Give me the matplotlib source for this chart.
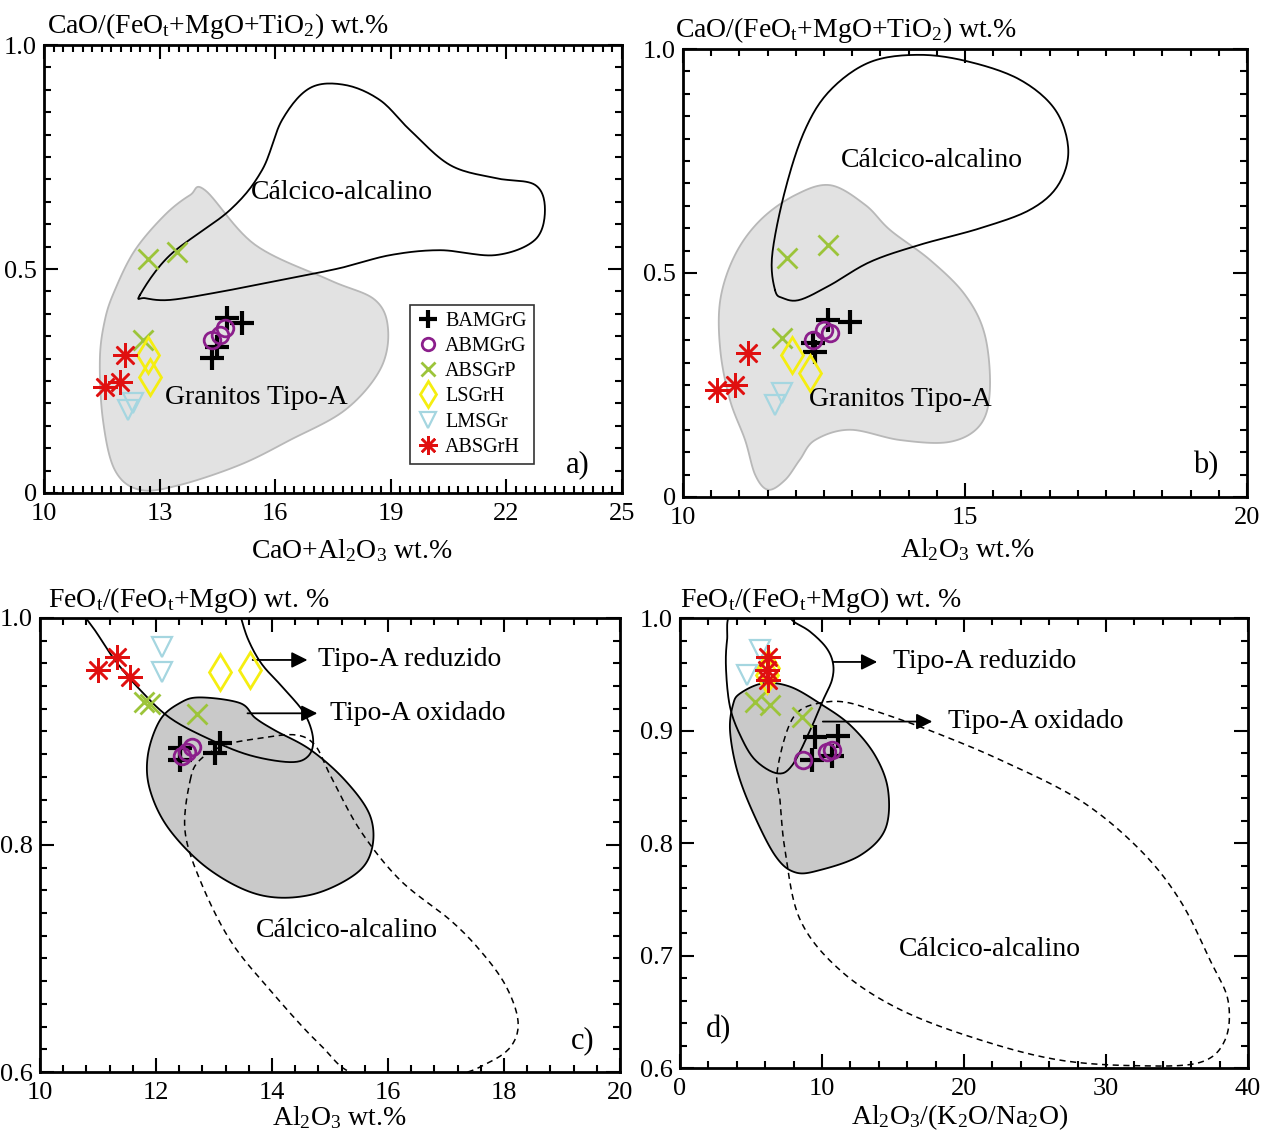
import numpy as np
import matplotlib.pyplot as plt
from matplotlib.ticker import MultipleLocator

plt.rcParams['font.family'] = ['Liberation Serif', 'DejaVu Serif']
plt.rcParams['mathtext.fontset'] = 'stix'
plt.rcParams['mathtext.default'] = 'regular'

# ---- sample points ----
groups = ['BAMGrG', 'ABMGrG', 'ABSGrP', 'LSGrH', 'LMSGr', 'ABSGrH']

pts_a = {
    'BAMGrG': ([14.36, 14.49, 14.75, 15.14], [0.301, 0.326, 0.391, 0.379]),
    'ABMGrG': ([14.36, 14.57, 14.70], [0.342, 0.353, 0.368]),
    'ABSGrP': ([12.70, 13.45, 12.57], [0.522, 0.538, 0.342]),
    'LSGrH': ([12.70, 12.75], [0.308, 0.259]),
    'LMSGr': ([12.31, 12.18], [0.201, 0.185]),
    'ABSGrH': ([12.10, 11.58, 11.97], [0.308, 0.237, 0.248]),
}
pts_b = {
    'BAMGrG': ([12.30, 12.34, 12.57, 12.96], [0.344, 0.324, 0.395, 0.391]),
    'ABMGrG': ([12.30, 12.50, 12.60], [0.350, 0.372, 0.365]),
    'ABSGrP': ([11.84, 12.57, 11.76], [0.533, 0.562, 0.355]),
    'LSGrH': ([11.93, 12.25], [0.317, 0.277]),
    'LMSGr': ([11.76, 11.63], [0.232, 0.205]),
    'ABSGrH': ([11.15, 10.60, 10.92], [0.321, 0.239, 0.250]),
}
pts_c = {
    'BAMGrG': ([12.41, 12.41, 13.10, 13.02], [0.885, 0.875, 0.890, 0.881]),
    'ABMGrG': ([12.53, 12.62, 12.45], [0.882, 0.886, 0.878]),
    'ABSGrP': ([11.80, 11.90, 12.71], [0.926, 0.924, 0.915]),
    'LSGrH': ([13.10, 13.62], [0.952, 0.954]),
    'LMSGr': ([12.10, 12.10], [0.974, 0.952]),
    'ABSGrH': ([11.00, 11.33, 11.55], [0.954, 0.966, 0.948]),
}
pts_d = {
    'BAMGrG': ([9.50, 11.13, 9.30, 10.70], [0.894, 0.895, 0.874, 0.877]),
    'ABMGrG': ([8.66, 10.35, 10.70], [0.874, 0.881, 0.883]),
    'ABSGrP': ([5.28, 6.34, 8.60], [0.925, 0.923, 0.912]),
    'LSGrH': ([6.20, 6.13], [0.956, 0.949]),
    'LMSGr': ([5.63, 4.72], [0.972, 0.949]),
    'ABSGrH': ([6.20, 6.20, 6.13], [0.965, 0.945, 0.954]),
}

# ---- field outlines (control points) ----
a_tipoA = [(14.18, .676), (15.48, .554), (17.42, .475), (18.59, .431), (18.93, .364),
           (18.72, .275), (17.81, .185), (16.38, .118), (15.09, .063), (13.53, .018),
           (12.49, .007), (11.84, .051), (11.53, .163), (11.45, .297), (11.58, .386),
           (11.84, .453), (12.36, .542), (13.14, .621), (13.79, .665)]
a_calc = [(12.49, .442), (13.27, .531), (14.83, .632), (15.66, .721), (16.18, .833),
          (16.90, .904), (17.81, .911), (18.72, .877), (19.50, .810), (20.54, .732),
          (21.71, .703), (22.74, .688), (23.00, .632), (22.74, .565), (21.71, .531),
          (20.28, .542), (18.98, .531), (17.68, .502), (16.12, .475), (14.57, .449),
          (13.27, .431), (12.62, .435)]
b_tipoA = [(12.61, .696), (13.23, .652), (13.67, .596), (14.38, .529), (15.00, .451),
           (15.35, .362), (15.44, .239), (15.27, .161), (14.73, .123), (13.85, .127),
           (12.96, .150), (12.34, .127), (12.07, .083), (11.81, .038), (11.51, .016),
           (11.28, .049), (11.10, .127), (10.83, .217), (10.66, .328), (10.66, .440),
           (10.92, .540), (11.37, .618), (11.99, .674)]
b_calc = [(11.63, .462), (11.58, .540), (11.81, .685), (12.16, .819), (12.61, .908),
          (13.32, .971), (14.20, .987), (15.09, .971), (15.98, .931), (16.60, .864),
          (16.83, .775), (16.65, .696), (16.15, .641), (15.27, .600), (14.20, .563),
          (13.32, .525), (12.61, .473), (12.07, .440), (11.77, .444)]
c_oxid = [(12.76, .930), (13.45, .925), (13.71, .912), (14.05, .901), (14.66, .884),
          (15.26, .857), (15.69, .826), (15.72, .796), (15.43, .774), (14.66, .756),
          (13.79, .756), (12.93, .778), (12.24, .813), (11.90, .848), (11.86, .879),
          (12.07, .910), (12.41, .925)]
c_red = [(10.69, 1.007), (10.95, .989), (11.29, .963), (11.72, .937), (12.24, .912),
         (12.93, .893), (13.62, .879), (14.31, .873), (14.62, .878), (14.71, .893),
         (14.57, .915), (14.22, .937), (13.83, .959), (13.59, .981), (13.45, 1.003)]
c_calc = [(12.59, .857), (12.76, .875), (13.19, .888), (13.79, .894), (14.40, .897),
          (14.74, .888), (15.00, .862), (15.52, .813), (16.21, .769), (17.07, .734),
          (17.59, .707), (18.02, .677), (18.24, .646), (18.14, .624), (17.76, .609),
          (17.07, .597), (15.52, .597), (14.83, .624), (13.97, .672), (13.28, .716),
          (12.76, .769), (12.50, .813)]
d_oxid = [(4.23, .933), (5.85, .942), (7.75, .939), (9.86, .924), (11.97, .905),
          (13.73, .878), (14.65, .847), (14.44, .812), (12.68, .789), (9.86, .776),
          (8.10, .774), (6.69, .789), (5.07, .829), (4.01, .865), (3.52, .900), (3.73, .923)]
d_red = [(3.73, 1.005), (3.31, .980), (3.24, .954), (3.52, .921), (4.23, .896),
         (5.28, .874), (6.83, .862), (7.89, .869), (9.15, .900), (10.07, .927),
         (10.70, .945), (10.77, .960), (10.28, .974), (9.15, .988), (8.10, .996), (7.0, 1.005)]
d_calc = [(6.83, .862), (7.54, .900), (8.45, .918), (10.07, .925), (11.76, .925),
          (14.08, .916), (17.61, .900), (22.54, .874), (28.17, .838), (32.39, .794),
          (35.21, .749), (37.32, .696), (38.59, .660), (38.38, .625), (36.62, .605),
          (32.39, .602), (26.76, .607), (21.13, .625), (15.49, .652), (11.27, .687),
          (8.45, .732), (7.39, .794), (7.04, .838)]


def smooth(pts, closed=True, n=14):
    # Catmull-Rom curve through the control points
    p = np.asarray(pts, float)
    if closed:
        p = np.vstack([p[-1], p, p[0], p[1]])
    else:
        p = np.vstack([p[0], p, p[-1]])
    t = np.linspace(0, 1, n, endpoint=False)[:, None]
    out = []
    for i in range(1, len(p) - 2):
        p0, p1, p2, p3 = p[i - 1], p[i], p[i + 1], p[i + 2]
        out.append(0.5 * (2 * p1 + (-p0 + p2) * t + (2 * p0 - 5 * p1 + 4 * p2 - p3) * t ** 2
                          + (-p0 + 3 * p1 - 3 * p2 + p3) * t ** 3))
    out.append(p[-2][None, :])
    return np.vstack(out)


style = {
    'BAMGrG': dict(marker='+', color='black', ms=17, mew=3.0, mfc='none'),
    'ABMGrG': dict(marker='o', color='#8b1e8b', ms=12, mew=2.0, mfc='none'),
    'ABSGrP': dict(marker='x', color='#9cc43a', ms=14, mew=2.0, mfc='none'),
    'LSGrH': dict(marker='d', color='#f5ee10', ms=18, mew=2.0, mfc='none'),
    'LMSGr': dict(marker='v', color='#a5d6e0', ms=15, mew=1.6, mfc='none'),
    'ABSGrH': dict(marker=(8, 2, 0), color='#e01010', ms=18, mew=1.8, mfc='none'),
}


def draw_points(ax, pts):
    for g in groups:
        xs, ys = pts[g]
        ax.plot(xs, ys, ls='none', label=g, zorder=5, **style[g])


def field(ax, pts, fill=None, edge='black', ls='-', closed=True, lw=1.3):
    xy = smooth(pts, closed)
    if fill is not None:
        ax.fill(xy[:, 0], xy[:, 1], facecolor=fill, edgecolor=edge, lw=lw, zorder=1)
    else:
        ax.plot(xy[:, 0], xy[:, 1], color=edge, ls=ls, lw=lw, zorder=2)


def setup(ax, xlim, ylim, xticks, xmin, yticks, ymin):
    ax.set_xlim(*xlim)
    ax.set_ylim(*ylim)
    ax.set_xticks(xticks)
    ax.xaxis.set_minor_locator(MultipleLocator(xmin))
    ax.set_yticks(yticks, [('%g' % v if v == 0 else '%.1f' % v) for v in yticks])
    ax.yaxis.set_minor_locator(MultipleLocator(ymin))
    ax.tick_params(which='both', direction='in', top=True, right=True, labelsize=19, width=1.5)
    ax.tick_params(which='major', length=10)
    ax.tick_params(which='minor', length=5)
    ax.tick_params(axis='x', pad=7)
    ax.tick_params(axis='y', pad=5)
    for s in ax.spines.values():
        s.set_linewidth(2)


fig = plt.figure(figsize=(12.64, 11.32), dpi=100)
ax_a = fig.add_axes([0.0348, 0.5645, 0.4573, 0.3957])
ax_b = fig.add_axes([0.5404, 0.5610, 0.4462, 0.3957])
ax_c = fig.add_axes([0.0316, 0.0530, 0.4589, 0.4011])
ax_d = fig.add_axes([0.5380, 0.0565, 0.4494, 0.3975])

light, dark = '#e2e2e2', '#c9c9c9'
fs = 20
arrow = dict(arrowstyle='-|>', color='black', lw=1.3, mutation_scale=24)

# a)
setup(ax_a, (10, 25), (0, 1), [10, 13, 16, 19, 22, 25], 0.25, [0, 0.5, 1.0], 0.05)
field(ax_a, a_tipoA, fill=light, edge='#b8b8b8')
field(ax_a, a_calc)
draw_points(ax_a, pts_a)
ax_a.text(17.73, 0.670, 'Cálcico-alcalino', fontsize=fs, ha='center', va='center')
ax_a.text(15.5, 0.214, 'Granitos Tipo-A', fontsize=fs, ha='center', va='center')
ax_a.text(23.86, 0.062, 'a)', fontsize=fs + 2, ha='center', va='center')
ax_a.text(0.005, 1.01, 'CaO/(FeO$_t$+MgO+TiO$_2$) wt.%', transform=ax_a.transAxes,
          fontsize=fs, ha='left', va='bottom')
ax_a.text(0.533, -0.128, 'CaO+Al$_2$O$_3$ wt.%', transform=ax_a.transAxes,
          fontsize=fs, ha='center', va='center')
leg = ax_a.legend(loc='upper left', bbox_to_anchor=(0.633, 0.42), fontsize=14.5,
                  frameon=True, fancybox=False, edgecolor='black', handletextpad=0.3,
                  handlelength=1.1, borderpad=0.35, labelspacing=0.3, borderaxespad=0)
leg.get_frame().set_linewidth(1.2)
for h in leg.legend_handles:
    h.set_markersize(h.get_markersize() * 0.75)

# b)
setup(ax_b, (10, 20), (0, 1), [10, 15, 20], 0.5, [0, 0.5, 1.0], 0.05)
field(ax_b, b_tipoA, fill=light, edge='#b8b8b8')
field(ax_b, b_calc)
draw_points(ax_b, pts_b)
ax_b.text(14.41, 0.752, 'Cálcico-alcalino', fontsize=fs, ha='center', va='center')
ax_b.text(13.85, 0.217, 'Granitos Tipo-A', fontsize=fs, ha='center', va='center')
ax_b.text(19.26, 0.071, 'b)', fontsize=fs + 2, ha='center', va='center')
ax_b.text(-0.014, 1.01, 'CaO/(FeO$_t$+MgO+TiO$_2$) wt.%', transform=ax_b.transAxes,
          fontsize=fs, ha='left', va='bottom')
ax_b.text(0.505, -0.118, 'Al$_2$O$_3$ wt.%', transform=ax_b.transAxes,
          fontsize=fs, ha='center', va='center')

# c)
setup(ax_c, (10, 20), (0.6, 1.0), [10, 12, 14, 16, 18, 20], 0.4, [0.6, 0.8, 1.0], 0.02)
field(ax_c, c_oxid, fill=dark, edge='black')
field(ax_c, c_red, closed=False)
field(ax_c, c_calc, ls=(0, (4, 3)), lw=1.1)
draw_points(ax_c, pts_c)
ax_c.annotate('', xy=(14.66, 0.963), xytext=(13.62, 0.963), arrowprops=arrow)
ax_c.text(14.79, 0.963, 'Tipo-A reduzido', fontsize=fs, ha='left', va='center')
ax_c.annotate('', xy=(14.83, 0.916), xytext=(13.53, 0.916), arrowprops=arrow)
ax_c.text(15.0, 0.916, 'Tipo-A oxidado', fontsize=fs, ha='left', va='center')
ax_c.text(15.29, 0.725, 'Cálcico-alcalino', fontsize=fs, ha='center', va='center')
ax_c.text(19.36, 0.628, 'c)', fontsize=fs + 2, ha='center', va='center')
ax_c.text(0.014, 1.006, 'FeO$_t$/(FeO$_t$+MgO) wt. %', transform=ax_c.transAxes,
          fontsize=fs, ha='left', va='bottom')
ax_c.text(0.517, -0.1, 'Al$_2$O$_3$ wt.%', transform=ax_c.transAxes,
          fontsize=fs, ha='center', va='center')

# d)
setup(ax_d, (0, 40), (0.6, 1.0), [0, 10, 20, 30, 40], 2, [0.6, 0.7, 0.8, 0.9, 1.0], 0.02)
field(ax_d, d_oxid, fill=dark, edge='black')
field(ax_d, d_red)
field(ax_d, d_calc, ls=(0, (4, 3)), lw=1.1)
draw_points(ax_d, pts_d)
ax_d.annotate('', xy=(14.08, 0.961), xytext=(10.56, 0.961), arrowprops=arrow)
ax_d.text(15.0, 0.961, 'Tipo-A reduzido', fontsize=fs, ha='left', va='center')
ax_d.annotate('', xy=(17.96, 0.908), xytext=(9.86, 0.908), arrowprops=arrow)
ax_d.text(18.87, 0.908, 'Tipo-A oxidado', fontsize=fs, ha='left', va='center')
ax_d.text(21.83, 0.705, 'Cálcico-alcalino', fontsize=fs, ha='center', va='center')
ax_d.text(2.68, 0.634, 'd)', fontsize=fs + 2, ha='center', va='center')
ax_d.text(0.0, 1.006, 'FeO$_t$/(FeO$_t$+MgO) wt. %', transform=ax_d.transAxes,
          fontsize=fs, ha='left', va='bottom')
ax_d.text(0.493, -0.108, 'Al$_2$O$_3$/(K$_2$O/Na$_2$O)', transform=ax_d.transAxes,
          fontsize=fs, ha='center', va='center')

fig.savefig('out.png', dpi=100)
